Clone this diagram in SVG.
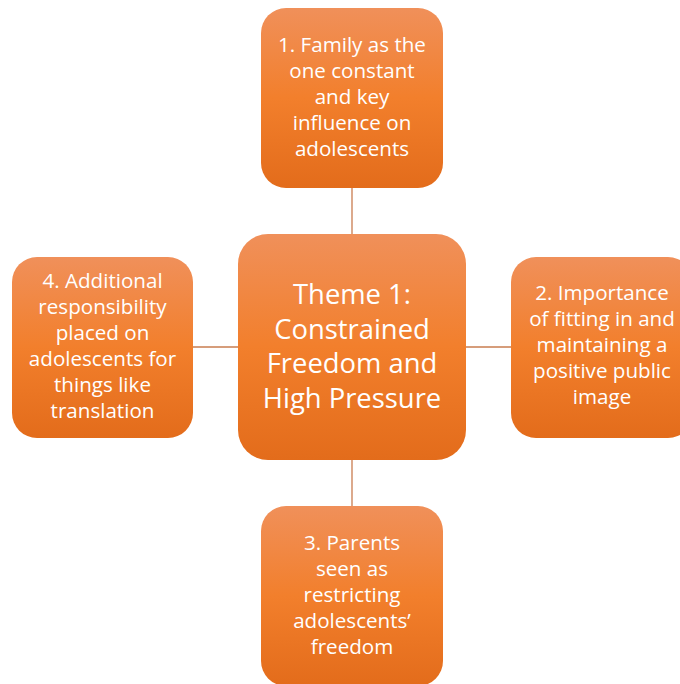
<svg xmlns="http://www.w3.org/2000/svg" width="680" height="684" viewBox="0 0 680 684">
<defs>
<linearGradient id="g" x1="0" y1="0" x2="0" y2="1">
<stop offset="0" stop-color="#F0905A"/>
<stop offset="0.5" stop-color="#F27F2C"/>
<stop offset="1" stop-color="#E36C1B"/>
</linearGradient>
<style>
.box{fill:url(#g);}
.t{font-family:"Open Sans","Liberation Sans",sans-serif;fill:#FFFFFF;text-anchor:middle;font-size:20.6px;}
.c{font-size:27.4px;}
.ln{stroke:#C97C4F;stroke-width:1.3;fill:none;}
</style>
</defs>
<rect width="680" height="684" fill="#FFFFFF"/>
<g id="connectors">
<line class="ln" x1="352" y1="188" x2="352" y2="234"/>
<line class="ln" x1="466" y1="347" x2="511" y2="347"/>
<line class="ln" x1="352" y1="460" x2="352" y2="506"/>
<line class="ln" x1="193" y1="347" x2="238" y2="347"/>
</g>
<g id="center">
<rect class="box" x="238" y="234" width="228" height="226" rx="30"/>
<text class="t c" x="352" y="304">Theme 1:</text>
<text class="t c" x="352" y="338.7">Constrained</text>
<text class="t c" x="352" y="373.3">Freedom and</text>
<text class="t c" x="352" y="408">High Pressure</text>
</g>
<g id="node1">
<rect class="box" x="261" y="8" width="182" height="180" rx="25"/>
<text class="t" x="352" y="52">1. Family as the</text>
<text class="t" x="352" y="78">one constant</text>
<text class="t" x="352" y="104">and key</text>
<text class="t" x="352" y="130">influence on</text>
<text class="t" x="352" y="156">adolescents</text>
</g>
<g id="node2">
<rect class="box" x="511" y="257" width="182" height="181" rx="25"/>
<text class="t" x="602" y="300">2. Importance</text>
<text class="t" x="602" y="326">of fitting in and</text>
<text class="t" x="602" y="352">maintaining a</text>
<text class="t" x="602" y="378">positive public</text>
<text class="t" x="602" y="404">image</text>
</g>
<g id="node3">
<rect class="box" x="261" y="506" width="182" height="180" rx="25"/>
<text class="t" x="352" y="550">3. Parents</text>
<text class="t" x="352" y="576">seen as</text>
<text class="t" x="352" y="602">restricting</text>
<text class="t" x="352" y="628">adolescents’</text>
<text class="t" x="352" y="654">freedom</text>
</g>
<g id="node4">
<rect class="box" x="12" y="257" width="181" height="181" rx="25"/>
<text class="t" x="102.5" y="288">4. Additional</text>
<text class="t" x="102.5" y="314">responsibility</text>
<text class="t" x="102.5" y="340">placed on</text>
<text class="t" x="102.5" y="366">adolescents for</text>
<text class="t" x="102.5" y="392">things like</text>
<text class="t" x="102.5" y="418">translation</text>
</g>
</svg>
